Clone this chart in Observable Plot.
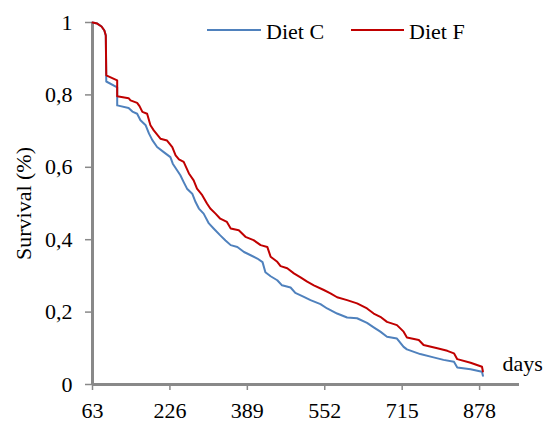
<!DOCTYPE html>
<html>
<head>
<meta charset="utf-8">
<script src="https://cdn.jsdelivr.net/npm/d3@7"></script>
<script src="https://cdn.jsdelivr.net/npm/@observablehq/plot@0.6"></script>
<style>
  html, body { margin: 0; padding: 0; background: #fff; }
  #chart { position: relative; width: 547px; height: 423px; }
</style>
</head>
<body>
<div id="chart"></div>
<script>
// ---- data ----
const seriesNames = ["Diet C", "Diet F"];
const seriesColors = ["#4f81bd", "#c00000"];

const daysC = [63, 73, 82, 88, 91, 92, 115, 115, 139, 147, 157, 164, 175, 182, 189, 199, 213, 227, 232, 248, 255, 262, 273, 280, 287, 297, 308, 318, 332, 343, 354, 368, 382, 396, 410, 421, 427, 438, 452, 462, 480, 490, 508, 522, 543, 557, 578, 599, 620, 641, 655, 669, 683, 704, 718, 725, 753, 781, 802, 824, 831, 859, 883, 885];
const survC = [1.000, 0.997, 0.989, 0.978, 0.964, 0.837, 0.821, 0.771, 0.764, 0.754, 0.748, 0.730, 0.716, 0.693, 0.675, 0.656, 0.642, 0.628, 0.610, 0.578, 0.559, 0.541, 0.527, 0.504, 0.486, 0.472, 0.445, 0.431, 0.412, 0.398, 0.385, 0.380, 0.366, 0.357, 0.348, 0.338, 0.310, 0.299, 0.288, 0.274, 0.268, 0.253, 0.242, 0.233, 0.222, 0.210, 0.196, 0.185, 0.183, 0.170, 0.158, 0.146, 0.132, 0.127, 0.104, 0.097, 0.084, 0.075, 0.068, 0.063, 0.047, 0.042, 0.035, 0.024];

const daysF = [63, 73, 82, 88, 91, 92, 115, 115, 139, 143, 157, 162, 168, 178, 185, 192, 206, 220, 231, 238, 245, 255, 266, 276, 283, 294, 304, 311, 322, 332, 346, 354, 371, 385, 402, 417, 431, 438, 452, 459, 473, 487, 501, 515, 529, 550, 564, 578, 599, 620, 641, 655, 669, 683, 704, 718, 725, 750, 760, 789, 810, 824, 831, 859, 883, 885];
const survF = [1.000, 0.997, 0.989, 0.978, 0.964, 0.854, 0.840, 0.796, 0.791, 0.785, 0.778, 0.769, 0.753, 0.748, 0.716, 0.702, 0.679, 0.674, 0.656, 0.633, 0.622, 0.615, 0.583, 0.564, 0.541, 0.523, 0.500, 0.486, 0.472, 0.458, 0.449, 0.431, 0.426, 0.408, 0.399, 0.385, 0.380, 0.353, 0.339, 0.327, 0.321, 0.307, 0.296, 0.284, 0.274, 0.261, 0.252, 0.241, 0.233, 0.224, 0.210, 0.196, 0.187, 0.173, 0.164, 0.146, 0.130, 0.123, 0.109, 0.100, 0.093, 0.086, 0.070, 0.060, 0.049, 0.036];

const xTicks = [63, 226, 389, 552, 715, 878];
const yTicks = [0, 0.2, 0.4, 0.6, 0.8, 1];
const xDomain = [63, 962];
const yDomain = [0, 1];
const yTitle = "Survival (%)";
const xTitle = "days";

// ---- build table ----
const rows = [];
daysC.forEach((d, i) => rows.push({day: d, surv: survC[i], diet: seriesNames[0]}));
daysF.forEach((d, i) => rows.push({day: d, surv: survF[i], diet: seriesNames[1]}));

const FONT = "'Liberation Serif', 'Times New Roman', serif";
const AXIS = "#898989";

const plot = Plot.plot({
  width: 547,
  height: 423,
  marginLeft: 92,
  marginRight: 28,
  marginTop: 22,
  marginBottom: 39,
  style: {fontFamily: FONT, fontSize: "22px", background: "#fff", color: "#000"},
  x: {domain: xDomain},
  y: {domain: yDomain},
  color: {domain: seriesNames, range: seriesColors},
  marks: [
    Plot.axisX(xTicks, {tickSize: 6, tickPadding: 12, fontSize: 22, stroke: AXIS, strokeWidth: 1.5, fill: "#000", tickFormat: d => String(d), label: null}),
    Plot.axisY(yTicks, {tickSize: 7, tickPadding: 13, fontSize: 22, stroke: AXIS, strokeWidth: 1.5, fill: "#000",
      tickFormat: d => String(d).replace(".", ","), label: null}),
    Plot.ruleY([0], {stroke: AXIS, strokeWidth: 3}),
    Plot.ruleX([xDomain[0]], {stroke: AXIS, strokeWidth: 3}),
    Plot.line(rows.filter(r => r.diet === seriesNames[0]), {x: "day", y: "surv", stroke: "diet", strokeWidth: 2}),
    Plot.line(rows.filter(r => r.diet === seriesNames[1]), {x: "day", y: "surv", stroke: "diet", strokeWidth: 2}),
    Plot.text([yTitle], {frameAnchor: "left", textAnchor: "middle", dx: -69, rotate: -90, fontSize: 22, fill: "#000"}),
    Plot.text([xTitle], {frameAnchor: "bottom-right", textAnchor: "start", dx: -17, dy: -14, fontSize: 22, fill: "#000"})
  ]
});

document.getElementById("chart").appendChild(plot);

// ---- legend (inside the plot area, top) ----
const svg = d3.select(plot);
const legend = svg.append("g").attr("font-family", FONT).attr("font-size", 22).attr("text-anchor", "start");
const legendItems = [
  {x1: 207, x2: 261, tx: 266},
  {x1: 351, x2: 404, tx: 409}
];
legendItems.forEach((it, i) => {
  legend.append("line").attr("x1", it.x1).attr("x2", it.x2).attr("y1", 30).attr("y2", 30)
    .attr("stroke", seriesColors[i]).attr("stroke-width", 2);
  legend.append("text").attr("x", it.tx).attr("y", 39).attr("fill", "#000").attr("text-anchor", "start").text(seriesNames[i]);
});
</script>
</body>
</html>
